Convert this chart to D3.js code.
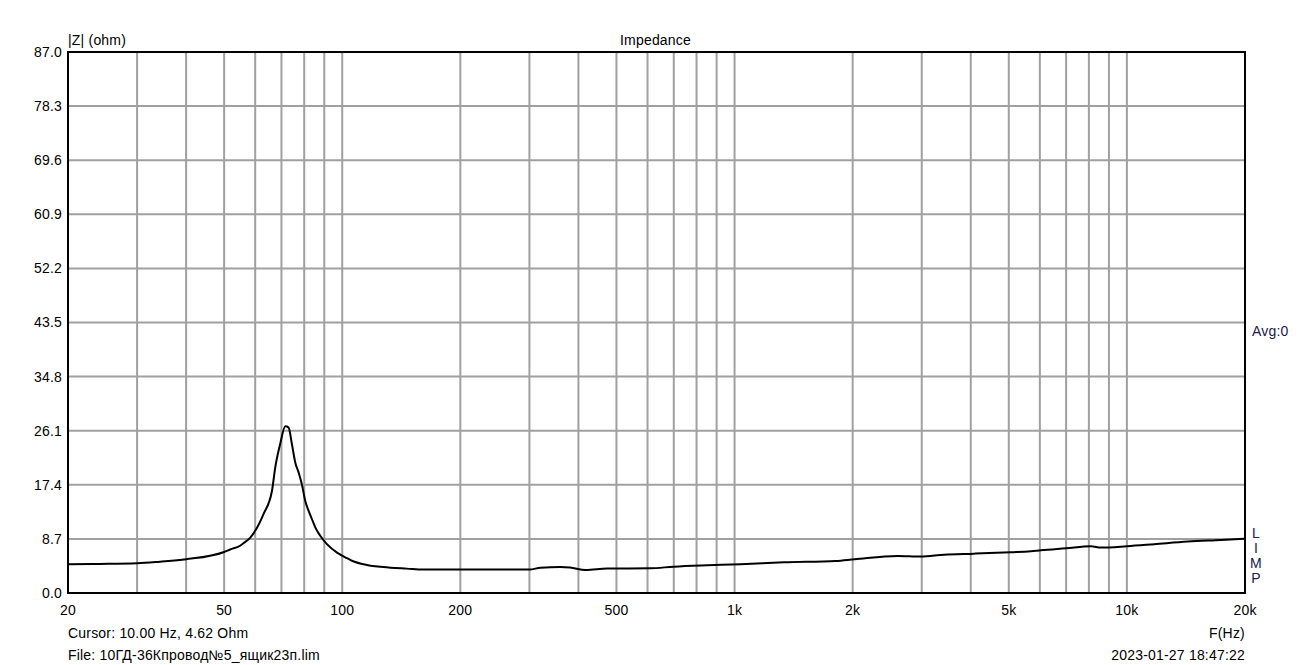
<!DOCTYPE html>
<html>
<head>
<meta charset="utf-8">
<script src="https://cdn.jsdelivr.net/npm/d3@7"></script>
<style>
  body { margin: 0; background: #fff; }
  text { font-family: "Liberation Sans", Arial, sans-serif; font-size: 14px; letter-spacing: 0.2px; }
</style>
</head>
<body>
<script>
// Impedance curve
const freqs = [20, 24.1, 30, 34.3, 40, 50, 51.8, 54.9, 56, 58.3, 60, 63, 66.2, 67.5, 69.5, 71.6, 73, 74.4, 75.9,
  77.4, 78.9, 80.5, 82.1, 83.7, 85.3, 87.9, 91.4, 97, 100, 102.8, 106.6, 115.6, 132.6, 146, 161, 200, 300,
  320, 360, 381, 417, 473, 610, 700, 852, 1036, 1336, 1810, 2023, 2602, 2983, 3420, 4079, 5059, 5690,
  6034, 7000, 8095, 8590, 10000, 11740, 14290, 17380, 20000];
const impedance = [4.62, 4.67, 4.78, 5.04, 5.43, 6.6, 7.0, 7.6, 8.0, 8.9, 10.0, 12.7, 16.4, 20.2, 24.0, 26.8, 26.6, 24.0, 21.0,
  19.4, 17.5, 14.8, 13.2, 11.9, 10.6, 9.2, 7.85, 6.5, 6.0, 5.6, 5.1, 4.51, 4.08, 3.92, 3.76, 3.76, 3.76,
  4.08, 4.19, 4.1, 3.7, 3.92, 3.97, 4.24, 4.46, 4.62, 4.94, 5.16, 5.43, 5.96, 5.85, 6.17, 6.33, 6.56, 6.72,
  6.88, 7.2, 7.52, 7.3, 7.52, 7.85, 8.27, 8.54, 8.75];

const yTicks = [0, 8.7, 17.4, 26.1, 34.8, 43.5, 52.2, 60.9, 69.6, 78.3, 87.0];
const xLabelTicks = [20, 50, 100, 200, 500, 1000, 2000, 5000, 10000, 20000];
const xGridTicks = [30, 40, 50, 60, 70, 80, 90, 100, 200, 300, 400, 500, 600, 700, 800, 900, 1000,
  2000, 3000, 4000, 5000, 6000, 7000, 8000, 9000, 10000];
const sideLetters = ["L", "I", "M", "P"];

const W = 1314, H = 665;
const margin = { top: 52, right: 69, bottom: 72, left: 68 };
const plotW = W - margin.left - margin.right;
const plotH = H - margin.top - margin.bottom;

const svg = d3.select("body").append("svg")
  .attr("width", W)
  .attr("height", H);

const x = d3.scaleLog().domain([20, 20000]).range([0, plotW]);
const y = d3.scaleLinear().domain([0, 87]).range([plotH, 0]);

const g = svg.append("g")
  .attr("transform", `translate(${margin.left},${margin.top})`);

// grid
g.selectAll(".vgrid")
  .data(xGridTicks)
  .enter().append("line")
  .attr("x1", d => x(d)).attr("x2", d => x(d))
  .attr("y1", 0).attr("y2", plotH)
  .style("stroke", "#a0a0a0")
  .style("stroke-width", 2);

g.selectAll(".hgrid")
  .data(yTicks)
  .enter().append("line")
  .attr("x1", 0).attr("x2", plotW)
  .attr("y1", d => y(d)).attr("y2", d => y(d))
  .style("stroke", "#a0a0a0")
  .style("stroke-width", 2);

// y tick labels
g.selectAll(".ylab")
  .data(yTicks)
  .enter().append("text")
  .attr("x", -6)
  .attr("y", d => y(d))
  .attr("dy", "0.35em")
  .attr("text-anchor", "end")
  .text(d => d.toFixed(1));

// x tick labels
const fmt = d => d >= 1000 ? (d / 1000) + "k" : String(d);
g.selectAll(".xlab")
  .data(xLabelTicks)
  .enter().append("text")
  .attr("x", d => x(d))
  .attr("y", plotH + 22)
  .attr("text-anchor", "middle")
  .text(fmt);

// curve
g.append("clipPath").attr("id", "clip")
  .append("rect").attr("width", plotW).attr("height", plotH);

const line = d3.line()
  .x((d, i) => x(freqs[i]))
  .y(d => y(d))
  .curve(d3.curveMonotoneX);

g.append("path")
  .datum(impedance)
  .attr("clip-path", "url(#clip)")
  .attr("d", line)
  .style("fill", "none")
  .style("stroke", "#000")
  .style("stroke-width", 2);

// frame
g.append("rect")
  .attr("width", plotW)
  .attr("height", plotH)
  .style("fill", "none")
  .style("stroke", "#000")
  .style("stroke-width", 2);

// labels
g.append("text").attr("x", 0).attr("y", -7).text("|Z| (ohm)");
g.append("text").attr("x", plotW / 2 - 1).attr("y", -7)
  .attr("text-anchor", "middle").text("Impedance");
g.append("text").attr("x", plotW + 7).attr("y", 284)
  .style("fill", "#20204a").text("Avg:0");

g.selectAll(".side")
  .data(sideLetters)
  .enter().append("text")
  .attr("x", plotW + 11)
  .attr("y", (d, i) => 486 + i * 15)
  .attr("text-anchor", "middle")
  .style("fill", "#20204a")
  .text(d => d);

g.append("text").attr("x", 0).attr("y", plotH + 45).text("Cursor: 10.00 Hz, 4.62 Ohm");
g.append("text").attr("x", 0).attr("y", plotH + 67).text("File: 10ГД-36Кпровод№5_ящик23п.lim");
g.append("text").attr("x", plotW).attr("y", plotH + 45)
  .attr("text-anchor", "end").text("F(Hz)");
g.append("text").attr("x", plotW).attr("y", plotH + 67)
  .attr("text-anchor", "end").text("2023-01-27 18:47:22");
</script>
</body>
</html>
